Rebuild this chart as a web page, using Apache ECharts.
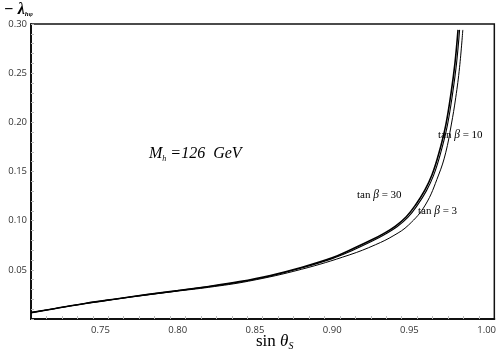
<!DOCTYPE html>
<html>
<head>
<meta charset="utf-8">
<script src="https://cdn.jsdelivr.net/npm/echarts@6/dist/echarts.min.js"></script>
<style>
html, body { margin: 0; padding: 0; background: #fff; }
#main { width: 499px; height: 359px; }
</style>
</head>
<body>
<div id="main"></div>
<script>
// values
var xLabelValues = [0.75, 0.80, 0.85, 0.90, 0.95, 1.00];
var xMinorTicks = [0.715, 0.725, 0.735, 0.745, 0.755, 0.765, 0.775, 0.785, 0.795, 0.805, 0.815, 0.825, 0.835, 0.845, 0.855, 0.865, 0.875, 0.885, 0.895, 0.905, 0.915, 0.925, 0.935, 0.945, 0.955, 0.965, 0.975, 0.985, 0.995];

var sin30 = [0.705, 0.72, 0.74, 0.76, 0.78, 0.80, 0.82, 0.84, 0.86, 0.88, 0.90, 0.911, 0.925, 0.933, 0.941, 0.948, 0.954, 0.960, 0.9646, 0.969, 0.9736, 0.977, 0.9795, 0.9815];
var lam30 = [0.0065, 0.0105, 0.0158, 0.0204, 0.0248, 0.0289, 0.0331, 0.0380, 0.0443, 0.0524, 0.0622, 0.0697, 0.0800, 0.0866, 0.0945, 0.1040, 0.1160, 0.1310, 0.1464, 0.1680, 0.1975, 0.2300, 0.2600, 0.2940];

var sin10 = [0.705, 0.72, 0.74, 0.76, 0.78, 0.80, 0.82, 0.84, 0.86, 0.88, 0.90, 0.912, 0.926, 0.934, 0.942, 0.949, 0.955, 0.961, 0.9656, 0.970, 0.9746, 0.978, 0.9805, 0.9825];
var lam10 = [0.0065, 0.0105, 0.0158, 0.0204, 0.0248, 0.0288, 0.0329, 0.0377, 0.0438, 0.0518, 0.0614, 0.0690, 0.0793, 0.0859, 0.0938, 0.1033, 0.1153, 0.1303, 0.1458, 0.1675, 0.1970, 0.2295, 0.2595, 0.2940];

var sin3 = [0.705, 0.72, 0.74, 0.76, 0.78, 0.80, 0.82, 0.846, 0.88, 0.911, 0.928, 0.940, 0.9495, 0.9603, 0.9689, 0.9735, 0.9771, 0.9800, 0.9825, 0.9846];
var lam3 = [0.0065, 0.0105, 0.0157, 0.0202, 0.0245, 0.0284, 0.0322, 0.0385, 0.0505, 0.0651, 0.0755, 0.0850, 0.0956, 0.1159, 0.1464, 0.1690, 0.1973, 0.2250, 0.2560, 0.2940];

function pairs(xs, ys) {
    var out = [];
    for (var i = 0; i < xs.length; i++) out.push([xs[i], ys[i]]);
    return out;
}

var serif = '"Liberation Serif", "DejaVu Serif", serif';
var sans = '"Open Sans", "Liberation Sans", sans-serif';

function tanLabel(left, top, num) {
    return {
        type: 'text', left: left, top: top,
        style: {
            text: '{a|tan }{b|β}{a| = ' + num + '}',
            rich: {
                a: { fontFamily: serif, fontSize: 11, fill: '#000' },
                b: { fontFamily: serif, fontSize: 11.5, fontStyle: 'italic', fill: '#000' }
            }
        }
    };
}

var myChart = echarts.init(document.getElementById('main'));
var option = {
    animation: false,
    grid: {
        left: 31, right: 3, top: 24, bottom: 40,
        show: true, borderColor: '#111', borderWidth: 1.5, backgroundColor: '#fff'
    },
    xAxis: [{
        type: 'value',
        min: 0.705, max: 1.005,
        axisLine: { show: true, lineStyle: { color: '#111', width: 2 } },
        axisTick: { show: false },
        splitLine: { show: false },
        axisLabel: {
            customValues: xLabelValues,
            margin: 6,
            color: '#333', fontFamily: sans, fontSize: 9.5,
            formatter: function (v) { return v.toFixed(2); }
        }
    }, {
        type: 'value',
        min: 0.705, max: 1.005,
        position: 'bottom',
        axisLine: { show: false },
        axisLabel: { show: false },
        splitLine: { show: false },
        axisTick: {
            show: true, inside: true, length: 3,
            customValues: xMinorTicks,
            lineStyle: { color: '#bbb', width: 1 }
        }
    }],
    yAxis: {
        type: 'value',
        min: 0, max: 0.30, interval: 0.05,
        axisLine: { show: true, lineStyle: { color: '#111', width: 2 } },
        axisTick: { show: true, inside: true, length: 3, lineStyle: { color: '#bbb' } },
        minorTick: { show: true, splitNumber: 5, length: 3, lineStyle: { color: '#bbb' } },
        splitLine: { show: false },
        axisLabel: {
            showMinLabel: false,
            margin: 4,
            color: '#333', fontFamily: sans, fontSize: 9.5,
            formatter: function (v) { return v.toFixed(2); }
        }
    },
    series: [{
        name: 'tanβ=30', type: 'line', smooth: 0.4, showSymbol: false,
        lineStyle: { color: '#000', width: 1.6 },
        data: pairs(sin30, lam30)
    }, {
        name: 'tanβ=10', type: 'line', smooth: 0.4, showSymbol: false,
        lineStyle: { color: '#000', width: 1.1 },
        data: pairs(sin10, lam10)
    }, {
        name: 'tanβ=3', type: 'line', smooth: 0.4, showSymbol: false,
        lineStyle: { color: '#000', width: 1 },
        data: pairs(sin3, lam3)
    }],
    graphic: [{
        type: 'text', left: 4, top: 2,
        style: {
            text: '{a|− λ}{b|hφ}',
            rich: {
                a: { fontFamily: serif, fontSize: 16, fontWeight: 'bold', fontStyle: 'italic', fill: '#000' },
                b: { fontFamily: serif, fontSize: 7, fontWeight: 'bold', fontStyle: 'italic', fill: '#000', padding: [8, 0, 0, 0] }
            }
        }
    }, {
        type: 'text', left: 256, top: 333,
        style: {
            text: '{a|sin }{t|θ}{b|S}',
            rich: {
                a: { fontFamily: serif, fontSize: 17, fill: '#000' },
                t: { fontFamily: serif, fontSize: 17, fontStyle: 'italic', fill: '#000' },
                b: { fontFamily: serif, fontSize: 10, fontStyle: 'italic', fill: '#000', padding: [9, 0, 0, 0] }
            }
        }
    }, {
        type: 'text', left: 149, top: 146,
        style: {
            text: '{a|M}{b|h}{c| =126  GeV}',
            rich: {
                a: { fontFamily: serif, fontSize: 16, fontStyle: 'italic', fill: '#000' },
                b: { fontFamily: serif, fontSize: 8, fontStyle: 'italic', fill: '#000', padding: [9, 0, 0, 0] },
                c: { fontFamily: serif, fontSize: 16, fontStyle: 'italic', fill: '#000' }
            }
        }
    },
    tanLabel(438, 129, 10),
    tanLabel(357, 189, 30),
    tanLabel(418, 205, 3)]
};
myChart.setOption(option);
</script>
</body>
</html>
